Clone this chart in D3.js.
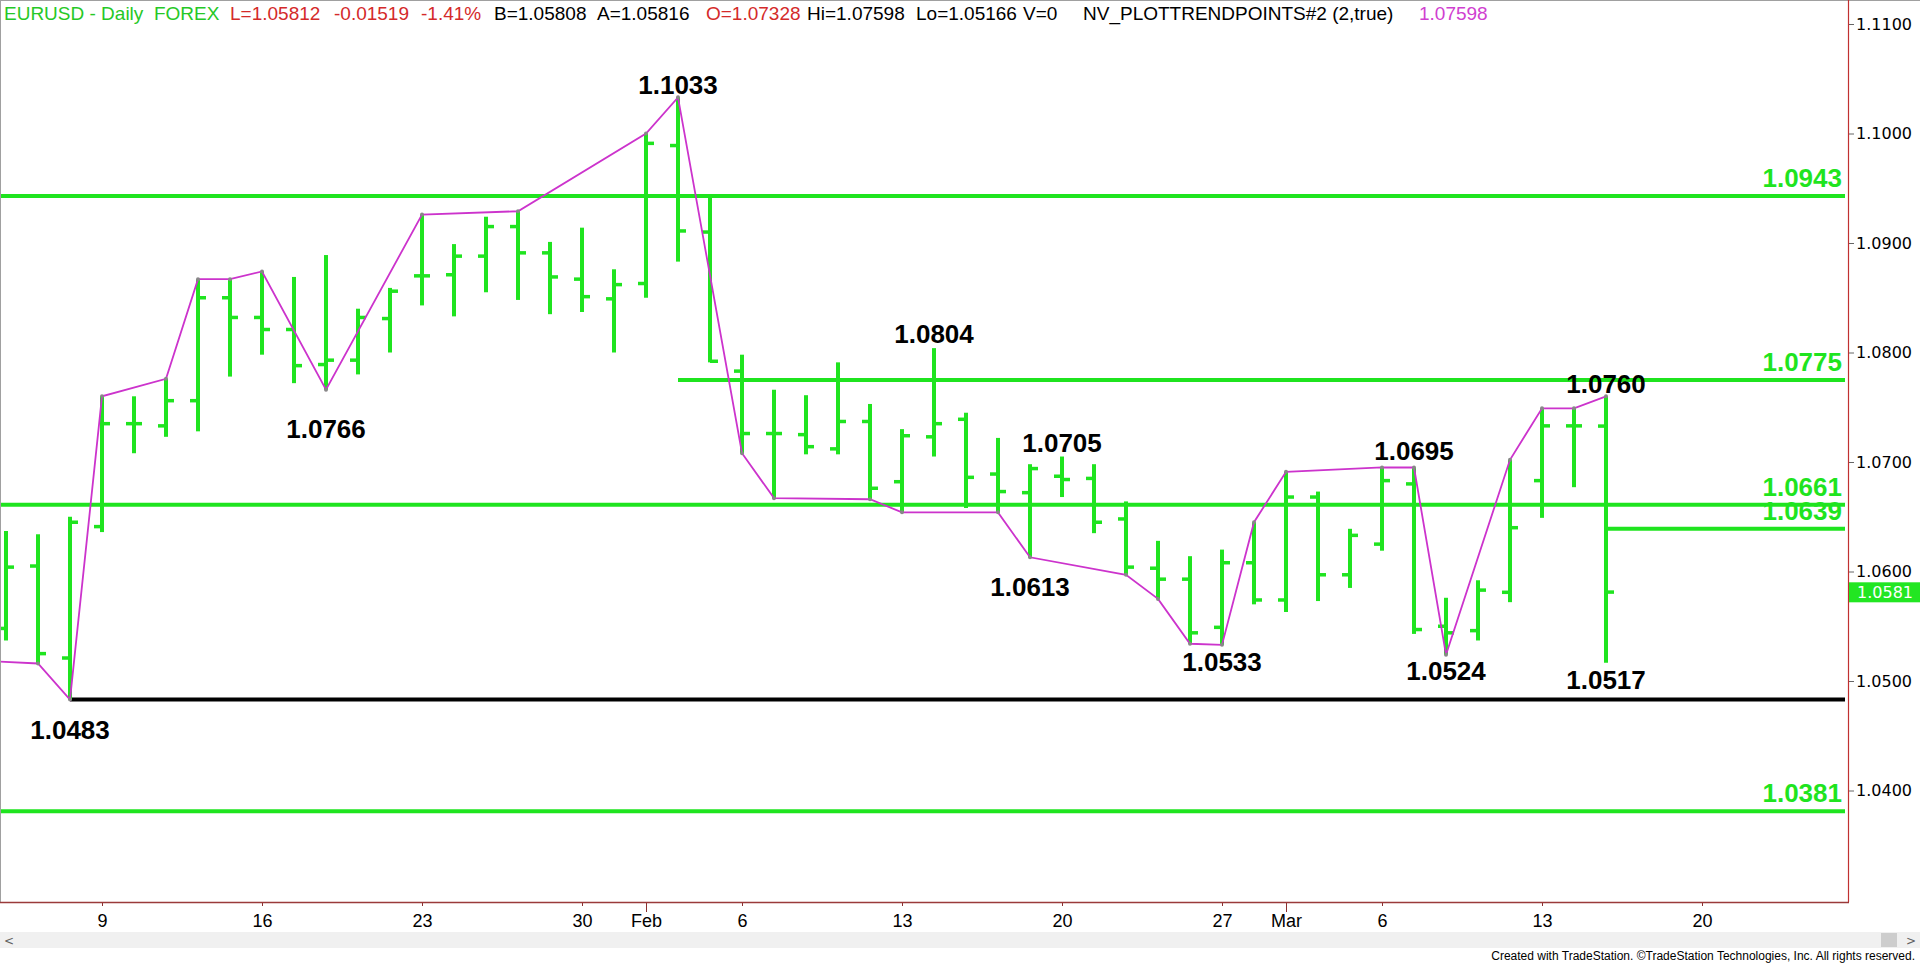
<!DOCTYPE html>
<html><head><meta charset="utf-8">
<script src="https://cdn.jsdelivr.net/npm/d3@7"></script>
<style>html,body{margin:0;padding:0;background:#fff;overflow:hidden}</style>
</head><body><svg id="c" width="1920" height="963"></svg>
<script>
// ---------- DATA ----------
const dates = ["2023-01-04","2023-01-05","2023-01-06","2023-01-09","2023-01-10","2023-01-11","2023-01-12","2023-01-13",
"2023-01-16","2023-01-17","2023-01-18","2023-01-19","2023-01-20","2023-01-23","2023-01-24","2023-01-25","2023-01-26","2023-01-27",
"2023-01-30","2023-01-31","2023-02-01","2023-02-02","2023-02-03","2023-02-06","2023-02-07","2023-02-08","2023-02-09","2023-02-10",
"2023-02-13","2023-02-14","2023-02-15","2023-02-16","2023-02-17","2023-02-20","2023-02-21","2023-02-22","2023-02-23","2023-02-24",
"2023-02-27","2023-02-28","2023-03-01","2023-03-02","2023-03-03","2023-03-06","2023-03-07","2023-03-08","2023-03-09","2023-03-10",
"2023-03-13","2023-03-14","2023-03-15"];
const openP  = [1.0548,1.0605,1.0521,1.0641,1.0735,1.0733,1.0756,1.0850,1.0832,1.0821,1.0789,1.0793,1.0831,1.0870,1.0871,1.0888,1.0915,1.0891,
1.0867,1.0849,1.0863,1.0989,1.0910,1.0783,1.0726,1.0725,1.0712,1.0737,1.0682,1.0723,1.0739,1.0689,1.0672,1.0687,1.0685,1.0648,1.0603,1.0593,
1.0549,1.0608,1.0574,1.0668,1.0597,1.0625,1.0680,1.0550,1.0546,1.0581,1.0683,1.0733,1.07328];
const highP  = [1.0637,1.0634,1.0650,1.0760,1.0760,1.0776,1.0867,1.0867,1.0874,1.0869,1.0889,1.0840,1.0859,1.0926,1.0899,1.0924,1.0929,1.0901,
1.0914,1.0876,1.1000,1.1033,1.0943,1.0798,1.0766,1.0761,1.0791,1.0753,1.0730,1.0804,1.0745,1.0722,1.0698,1.0705,1.0698,1.0664,1.0628,1.0614,
1.0620,1.0645,1.0691,1.0673,1.0639,1.0695,1.0695,1.0576,1.0592,1.0702,1.0749,1.0749,1.07598];
const lowP   = [1.0537,1.0516,1.0483,1.0636,1.0708,1.0723,1.0728,1.0778,1.0798,1.0772,1.0766,1.0780,1.0800,1.0843,1.0833,1.0855,1.0848,1.0835,
1.0837,1.0800,1.0850,1.0883,1.0791,1.0708,1.0667,1.0707,1.0707,1.0666,1.0654,1.0705,1.0658,1.0654,1.0613,1.0668,1.0635,1.0597,1.0575,1.0534,
1.0533,1.0570,1.0563,1.0573,1.0585,1.0619,1.0543,1.0524,1.0537,1.0572,1.0649,1.0677,1.05166];
const closeP = [1.0604,1.0525,1.0645,1.0735,1.0735,1.0756,1.0850,1.0832,1.0821,1.0788,1.0793,1.0832,1.0856,1.0870,1.0888,1.0915,1.0891,1.0869,
1.0851,1.0862,1.0991,1.0911,1.0792,1.0726,1.0726,1.0714,1.0737,1.0676,1.0724,1.0735,1.0686,1.0673,1.0694,1.0684,1.0645,1.0604,1.0593,1.0544,
1.0608,1.0574,1.0668,1.0597,1.0633,1.0683,1.0547,1.0544,1.0583,1.0640,1.0733,1.0733,1.05812];

const priorDates  = ["2023-01-03"];
const futureDates = ["2023-03-16","2023-03-17","2023-03-20","2023-03-21","2023-03-22","2023-03-23","2023-03-24"];

const tickDates  = ["2023-01-09","2023-01-16","2023-01-23","2023-01-30","2023-02-01","2023-02-06","2023-02-13","2023-02-20","2023-02-27","2023-03-01","2023-03-06","2023-03-13","2023-03-20"];
const tickLabels = ["9","16","23","30","Feb","6","13","20","27","Mar","6","13","20"];
const monthTicks = ["2023-02-01","2023-03-01"];
const priceTicks = [1.04,1.05,1.06,1.07,1.08,1.09,1.10,1.11];

const trendDates = ["2023-01-03","2023-01-05","2023-01-06","2023-01-09","2023-01-11","2023-01-12","2023-01-13","2023-01-16","2023-01-18",
"2023-01-23","2023-01-26","2023-02-01","2023-02-02","2023-02-06","2023-02-07","2023-02-10","2023-02-13","2023-02-16","2023-02-17",
"2023-02-22","2023-02-23","2023-02-24","2023-02-27","2023-02-28","2023-03-01","2023-03-06","2023-03-07","2023-03-08","2023-03-10",
"2023-03-13","2023-03-14","2023-03-15"];
const trendValues = [1.0519,1.0516,1.0483,1.0760,1.0776,1.0867,1.0867,1.0874,1.0766,1.0926,1.0929,1.1000,1.1033,1.0708,1.0667,1.0666,
1.0654,1.0654,1.0613,1.0597,1.0575,1.0534,1.0533,1.0645,1.0691,1.0695,1.0695,1.0524,1.0702,1.0749,1.0749,1.0760];

const swingDates  = ["2023-01-06","2023-01-18","2023-02-02","2023-02-14","2023-02-20","2023-02-17","2023-02-27","2023-03-07","2023-03-08","2023-03-15","2023-03-15"];
const swingValues = [1.0483,1.0766,1.1033,1.0804,1.0705,1.0613,1.0533,1.0695,1.0524,1.0760,1.0517];
const swingOffsets = [30,39,-13,-14,-14,29,17,-17,16,-13,17]; // label centre offset (px) from the swing price

const levelValues = [1.0943,1.0775,1.0661,1.0639,1.0483,1.0381];
const levelStarts = [null,"2023-02-02",null,"2023-03-15","2023-01-06",null];
const levelLabeled = [true,true,true,true,false,true];

const lastPrice = 1.0581;

const headerParts = [
  {t:"EURUSD - Daily  FOREX", c:"#26c826", x:4},
  {t:"L=1.05812", c:"#d42a2a", x:230},
  {t:"-0.01519", c:"#d42a2a", x:334},
  {t:"-1.41%", c:"#d42a2a", x:421},
  {t:"B=1.05808", c:"#000", x:494},
  {t:"A=1.05816", c:"#000", x:597},
  {t:"O=1.07328", c:"#d42a2a", x:706},
  {t:"Hi=1.07598", c:"#000", x:807},
  {t:"Lo=1.05166", c:"#000", x:916},
  {t:"V=0", c:"#000", x:1023},
  {t:"NV_PLOTTRENDPOINTS#2 (2,true)", c:"#000", x:1083},
  {t:"1.07598", c:"#d040d0", x:1419}
];

// ---------- CHART ----------
const GREEN = "#1fe41f", MAG = "#cc33cc";
const PR = 1848, PB = 902;
const svg = d3.select("#c");
const allDays = [...priorDates, ...dates, ...futureDates];
const x = d3.scalePoint().domain(allDays).range([-26, 1830]);
const y = d3.scaleLinear().domain([1.04, 1.11]).range([790.5, 24]);

svg.append("defs").append("clipPath").attr("id","pc").append("rect")
  .attr("x",0).attr("y",0).attr("width",PR).attr("height",PB);
const plot = svg.append("g").attr("clip-path","url(#pc)");

// level lines
levelValues.forEach((v,i)=>{
  const x0 = levelStarts[i] ? x(levelStarts[i]) : 0;
  plot.append("line").attr("x1",x0).attr("x2",PR-3).attr("y1",y(v)).attr("y2",y(v))
    .attr("stroke", i===4 ? "#000" : GREEN).attr("stroke-width", 4);
});

// OHLC bars
const bars = plot.append("g");
dates.forEach((d,i)=>{
  const cx = x(d);
  bars.append("line").attr("x1",cx).attr("x2",cx).attr("y1",y(highP[i])).attr("y2",y(lowP[i]))
    .attr("stroke",GREEN).attr("stroke-width",4);
  bars.append("line").attr("x1",cx-8).attr("x2",cx).attr("y1",y(openP[i])).attr("y2",y(openP[i]))
    .attr("stroke",GREEN).attr("stroke-width",3.5);
  bars.append("line").attr("x1",cx).attr("x2",cx+8).attr("y1",y(closeP[i])).attr("y2",y(closeP[i]))
    .attr("stroke",GREEN).attr("stroke-width",3.5);
});

// trend line
const tp = trendDates.map((d,i)=>({d, v:trendValues[i]}));
plot.append("path").datum(tp)
  .attr("d", d3.line().x(p=>x(p.d)).y(p=>y(p.v)))
  .attr("fill","none").attr("stroke",MAG).attr("stroke-width",1.8);
plot.selectAll("circle.tp").data(tp).enter().append("circle")
  .attr("cx",p=>x(p.d)).attr("cy",p=>y(p.v)).attr("r",2).attr("fill","#888");

// level labels
levelValues.forEach((v,i)=>{
  if(!levelLabeled[i]) return;
  svg.append("text").attr("x",1842).attr("y",y(v)-9).attr("text-anchor","end")
    .attr("font-family","Liberation Sans, Arial, sans-serif").attr("font-weight","bold")
    .attr("font-size",26).attr("fill",GREEN).text(d3.format(".4f")(v));
});

// swing labels
swingDates.forEach((d,i)=>{
  svg.append("text").attr("x",x(d)).attr("y",y(swingValues[i])+swingOffsets[i]+9.3)
    .attr("text-anchor","middle")
    .attr("font-family","Liberation Sans, Arial, sans-serif").attr("font-weight","bold")
    .attr("font-size",26).attr("fill","#000").text(d3.format(".4f")(swingValues[i]));
});

// borders
svg.append("line").attr("x1",0).attr("x2",1920).attr("y1",0.5).attr("y2",0.5).attr("stroke","#a0a0a0");
svg.append("line").attr("x1",0.5).attr("x2",0.5).attr("y1",0).attr("y2",PB).attr("stroke","#a0a0a0");

// right axis
const ya = svg.append("g").attr("transform",`translate(${PR},0)`)
  .call(d3.axisRight(y).tickValues(priceTicks).tickSize(6).tickPadding(2).tickFormat(d3.format(".4f")));
ya.select(".domain").remove();
ya.selectAll(".tick line").attr("stroke","#666");
ya.selectAll(".tick text").attr("font-family","DejaVu Sans, sans-serif").attr("font-size",16).attr("fill","#000");
svg.append("line").attr("x1",PR+0.5).attr("x2",PR+0.5).attr("y1",0).attr("y2",PB).attr("stroke","#c03030").attr("stroke-width",1.2);

// last price box
svg.append("rect").attr("x",PR+1).attr("y",y(lastPrice)-10).attr("width",1920-PR).attr("height",20).attr("fill","#22e622");
svg.append("text").attr("x",PR+9).attr("y",y(lastPrice)+6).attr("font-family","DejaVu Sans, sans-serif")
  .attr("font-size",16).attr("fill","#fff").text(d3.format(".4f")(lastPrice));

// bottom axis
const xa = svg.append("g").attr("transform",`translate(0,${PB})`)
  .call(d3.axisBottom(x).tickValues(tickDates).tickSize(4).tickPadding(8).tickFormat((d,i)=>tickLabels[i]));
xa.select(".domain").remove();
xa.selectAll(".tick line").attr("stroke","#8a3030").attr("y2",d=>monthTicks.includes(d)?10:4);
xa.selectAll(".tick text").attr("font-family","Liberation Sans, Arial, sans-serif").attr("font-size",18).attr("fill","#000");
svg.append("line").attr("x1",0).attr("x2",PR+1).attr("y1",PB+0.5).attr("y2",PB+0.5).attr("stroke","#9a3a3a").attr("stroke-width",1.5);

// scrollbar
svg.append("rect").attr("x",0).attr("y",932).attr("width",1920).attr("height",16).attr("fill","#f0f0f0");
svg.append("rect").attr("x",1881).attr("y",933).attr("width",16).attr("height",14).attr("fill","#cdcdcd");
svg.append("text").attr("x",4).attr("y",945).attr("font-family","DejaVu Sans, sans-serif").attr("font-size",12).attr("fill","#606060").text("<");
svg.append("text").attr("x",1906).attr("y",945).attr("font-family","DejaVu Sans, sans-serif").attr("font-size",12).attr("fill","#606060").text(">");
svg.append("text").attr("x",1915).attr("y",960).attr("text-anchor","end").attr("font-family","Liberation Sans Narrow, Liberation Sans, Arial, sans-serif")
  .attr("font-size",12).attr("fill","#000").text("Created with TradeStation. \u00A9TradeStation Technologies, Inc. All rights reserved.");

// header
headerParts.forEach(p=>{
  svg.append("text").attr("x",p.x).attr("y",20).attr("font-family","Liberation Sans, Arial, sans-serif")
    .attr("font-size",19).attr("fill",p.c).attr("xml:space","preserve").style("white-space","pre").text(p.t);
});
</script></body></html>
